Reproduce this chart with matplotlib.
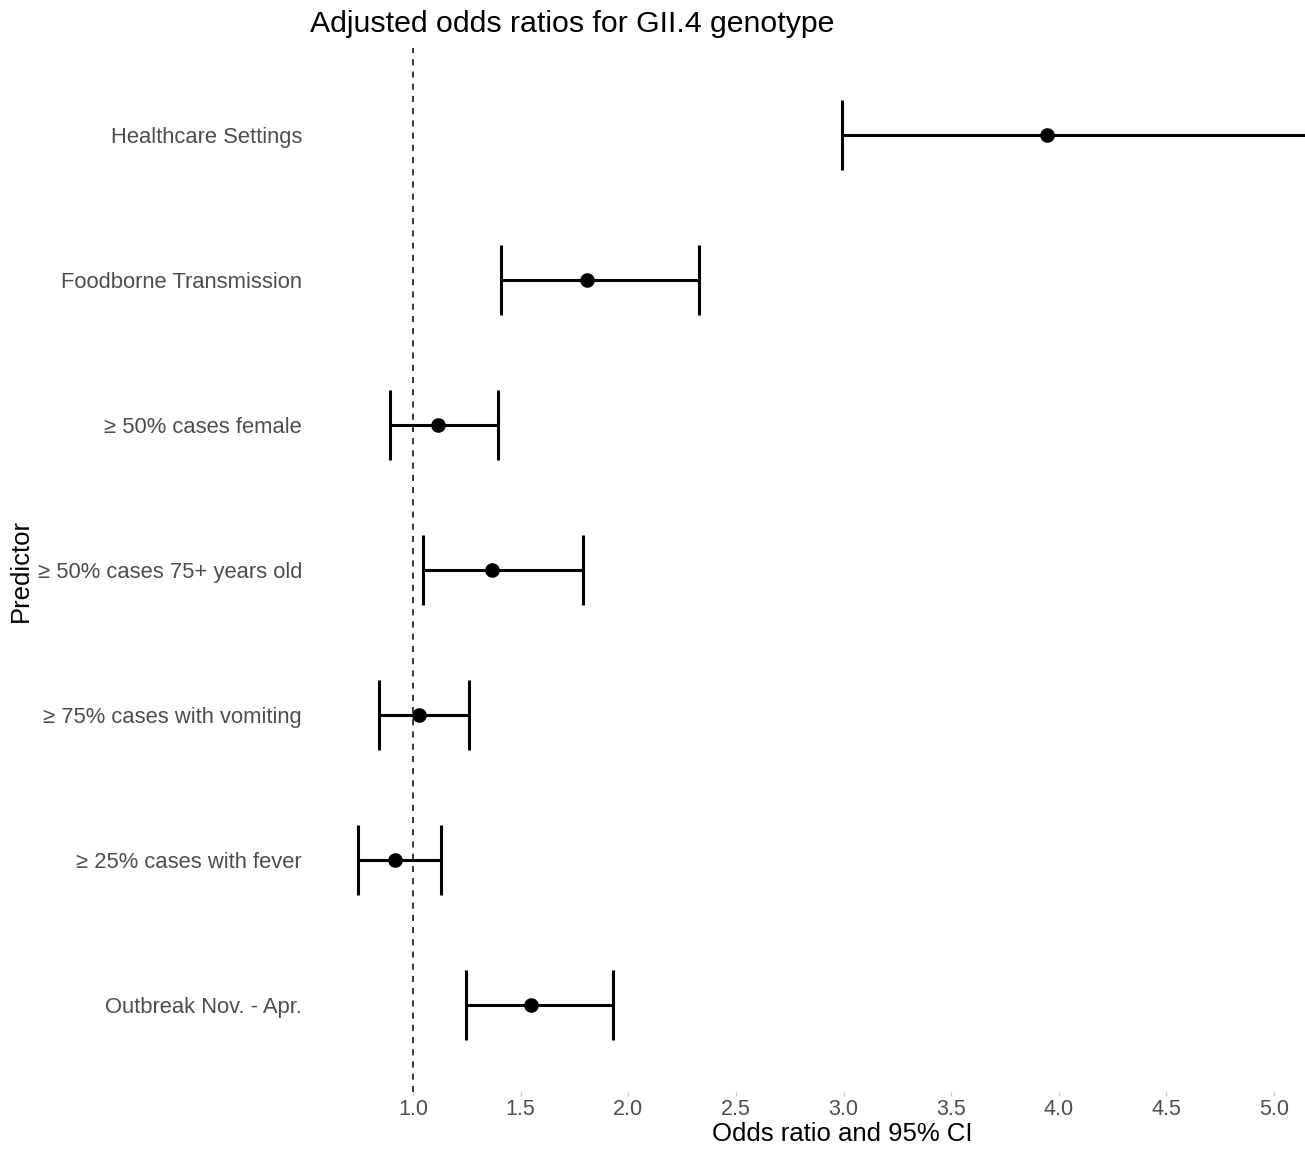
import matplotlib
matplotlib.use("Agg")
import matplotlib.pyplot as plt

plt.rcParams["font.family"] = ["Liberation Sans", "DejaVu Sans"]

# values, top row first
predictors = [
    "Healthcare Settings",
    "Foodborne Transmission",
    "\u2265 50% cases female",
    "\u2265 50% cases 75+ years old",
    "\u2265 75% cases with vomiting",
    "\u2265 25% cases with fever",
    "Outbreak Nov. - Apr.",
]
odds_ratio = [3.945, 1.808, 1.116, 1.367, 1.028, 0.916, 1.548]
ci_low = [2.993, 1.409, 0.893, 1.046, 0.842, 0.744, 1.246]
ci_high = [5.25, 2.329, 1.395, 1.790, 1.260, 1.130, 1.929]
x_ticks = [1.0, 1.5, 2.0, 2.5, 3.0, 3.5, 4.0, 4.5, 5.0]

W, H = 1305, 1150
fig = plt.figure(figsize=(W / 100, H / 100), dpi=100)

# panel in pixel coordinates
left, right, top, bottom = 310, 1305, 48, 1092
ax = fig.add_axes([left / W, 1 - bottom / H, (right - left) / W, (bottom - top) / H])

n = len(predictors)
ypos = [n - i for i in range(n)]
xerr = [[o - l for o, l in zip(odds_ratio, ci_low)],
        [h - o for o, h in zip(odds_ratio, ci_high)]]

ax.axvline(1.0, color="black", lw=1.1, ls=(0, (4, 4)), zorder=1)
ax.errorbar(odds_ratio, ypos, xerr=xerr, fmt="o", color="black", ms=9.5,
            elinewidth=2.2, capsize=25, capthick=2.2, zorder=3)

# 1.0 at x=413 px, 5.0 at x=1274 px
px_per_unit = (1274 - 413) / 4
ax.set_xlim(1 + (left - 413) / px_per_unit, 1 + (right - 413) / px_per_unit)
ax.set_ylim(0.4, n + 0.6)

ax.set_xticks(x_ticks)
ax.set_xticklabels([f"{t:.1f}" for t in x_ticks])
ax.set_yticks(ypos)
ax.set_yticklabels(predictors)
ax.tick_params(axis="x", colors="#CCCCCC", labelcolor="#4D4D4D", labelsize=15.5,
               length=3, width=1, pad=2)
ax.tick_params(axis="y", length=0, labelcolor="#4D4D4D", labelsize=15.8, pad=5.8)

for s in ax.spines.values():
    s.set_visible(False)

fig.text(572 / W, 1 - 24 / H, "Adjusted odds ratios for GII.4 genotype",
         ha="center", va="center", fontsize=21.8)
fig.text(842 / W, 1 - 1134 / H, "Odds ratio and 95% CI",
         ha="center", va="center", fontsize=18.5)
fig.text(21 / W, 1 - 570 / H, "Predictor", rotation=90,
         ha="center", va="center", fontsize=18.5)

fig.savefig("out.png", dpi=100)
